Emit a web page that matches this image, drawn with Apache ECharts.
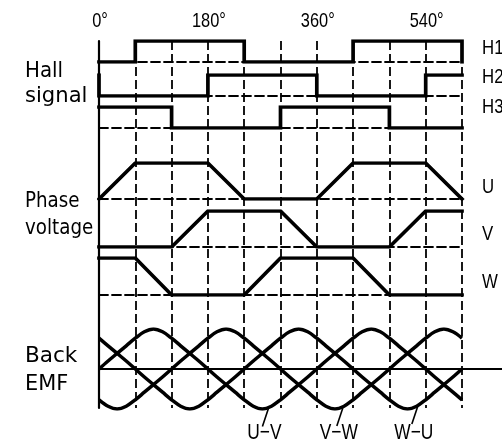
<!DOCTYPE html>
<html><head><meta charset="utf-8">
<script src="https://cdn.jsdelivr.net/npm/echarts@6/dist/echarts.min.js"></script>
<style>html,body{margin:0;padding:0;background:#fff}#c{width:502px;height:444px}</style>
</head><body><div id="c"></div>
<script>
// ---- data ----
const angleLabels = [0, 180, 360, 540];
const hall1 = [[0,0],[60,0],[60,1],[240,1],[240,0],[420,0],[420,1],[600,1],[600,0]];
const hall2 = [[0,1],[0,0],[180,0],[180,1],[360,1],[360,0],[540,0],[540,1],[600,1]];
const hall3 = [[0,1],[120,1],[120,0],[300,0],[300,1],[480,1],[480,0],[600,0]];
const phaseU = [[0,0],[60,1],[180,1],[240,0],[360,0],[420,1],[540,1],[600,0]];
const phaseV = [[0,0],[120,0],[180,1],[300,1],[360,0],[480,0],[540,1],[600,1]];
const phaseW = [[0,1],[60,1],[120,0],[240,0],[300,1],[420,1],[480,0],[600,0]];
const emfAngles = [0,15,30,45,60,75,90,105,120,135,150,165,180,195,210,225,240,255,270,285,300,315,330,345,360,375,390,405,420,435,450,465,480,495,510,525,540,555,570,585,600];
const emfA = [0,.2,.39,.58,.77,.93,1,.93,.77,.58,.39,.2,0,-.2,-.39,-.58,-.77,-.93,-1,-.93,-.77,-.58,-.39,-.2,0,.2,.39,.58,.77,.93,1,.93,.77,.58,.39,.2,0,-.2,-.39,-.58,-.77];
const emfB = [-.77,-.93,-1,-.93,-.77,-.58,-.39,-.2,0,.2,.39,.58,.77,.93,1,.93,.77,.58,.39,.2,0,-.2,-.39,-.58,-.77,-.93,-1,-.93,-.77,-.58,-.39,-.2,0,.2,.39,.58,.77,.93,1,.93,.77];
const emfC = [.77,.58,.39,.2,0,-.2,-.39,-.58,-.77,-.93,-1,-.93,-.77,-.58,-.39,-.2,0,.2,.39,.58,.77,.93,1,.93,.77,.58,.39,.2,0,-.2,-.39,-.58,-.77,-.93,-1,-.93,-.77,-.58,-.39,-.2,0];
const emfNotes = [['U\u2212V', 280, -0.96], ['V\u2212W', 403, -0.95], ['W\u2212U', 527, -0.9]];
const trackNames = ['H1','H2','H3','U','V','W'];
const sideLabels = ['Hall', 'signal', 'Phase', 'voltage', 'Back', 'EMF'];

// ---- styles ----
const INK = '#000';
const ARIAL = "'Liberation Sans',Arial,sans-serif";
const ROUND = "'DejaVu Sans',sans-serif";
const DASH = [9, 4];
const tracks = [[41, 21], [75, 21], [107, 21], [163, 36], [211, 36], [258, 37]];
const chart = echarts.init(document.getElementById('c'), null, {renderer: 'canvas'});

const grids = [], xAxes = [], yAxes = [], series = [];
grids.push({left: 99, width: 363, top: 41, height: 367, outerBoundsMode: 'none', containLabel: false});
xAxes.push({gridIndex: 0, type: 'value', min: 0, max: 600, interval: 60, position: 'top',
  axisLine: {show: false}, axisTick: {show: false}, axisLabel: {show: false},
  splitLine: {show: true, lineStyle: {color: INK, width: 1.8, type: DASH}}});
yAxes.push({gridIndex: 0, type: 'value', min: 0, max: 1,
  axisLine: {show: true, lineStyle: {color: INK, width: 2.2}}, axisTick: {show: false},
  axisLabel: {show: false}, splitLine: {show: false}});

const trackData = [hall1, hall2, hall3, phaseU, phaseV, phaseW];
tracks.forEach((t, i) => {
  const gi = grids.length;
  grids.push({left: 99, width: 363, top: t[0], height: t[1], outerBoundsMode: 'none', containLabel: false});
  xAxes.push({gridIndex: gi, type: 'value', min: 0, max: 600, position: 'bottom',
    axisLine: {show: true, onZero: false, lineStyle: {color: INK, width: 1.8, type: DASH}},
    axisTick: {show: false}, axisLabel: {show: false}, splitLine: {show: false}});
  yAxes.push({gridIndex: gi, type: 'value', min: 0, max: 1, show: false});
  series.push({type: 'line', name: trackNames[i], xAxisIndex: gi, yAxisIndex: gi, data: trackData[i],
    symbol: 'none', silent: true, z: 5,
    lineStyle: {color: INK, width: 3.7, join: 'miter', cap: 'square'}});
});

const eg = grids.length;
grids.push({left: 99, width: 363, top: 329, height: 80, outerBoundsMode: 'none', containLabel: false});
xAxes.push({gridIndex: eg, type: 'value', min: 0, max: 600, show: false});
yAxes.push({gridIndex: eg, type: 'value', min: -1, max: 1, show: false});
[emfA, emfB, emfC].forEach(arr => {
  series.push({type: 'line', xAxisIndex: eg, yAxisIndex: eg, symbol: 'none', silent: true, smooth: 0.35, z: 5,
    data: emfAngles.map((a, k) => [a, arr[k]]),
    lineStyle: {color: INK, width: 3.5}});
});
const zg = grids.length;
grids.push({left: 99, right: 0, top: 329, height: 40, outerBoundsMode: 'none', containLabel: false});
xAxes.push({gridIndex: zg, type: 'value', min: 0, max: 1, position: 'bottom',
  axisLine: {show: true, onZero: false, lineStyle: {color: INK, width: 2.2}},
  axisTick: {show: false}, axisLabel: {show: false}, splitLine: {show: false}});
yAxes.push({gridIndex: zg, type: 'value', min: 0, max: 1, show: false});

chart.setOption({animation: false, backgroundColor: '#fff', grid: grids, xAxis: xAxes, yAxis: yAxes, series: series});

// ---- text ----
function txt(text, x, y, size, family, align, sx) {
  return {type: 'text', silent: true, z: 10, x: x, y: y, scaleX: sx || 1,
    style: {text: text, x: 0, y: 0, fill: INK, fontSize: size, fontFamily: family,
      align: align || 'left', verticalAlign: 'middle'}};
}
const g = [];
const sideY = [71.5, 96, 201.5, 228, 356.5, 384.5];
const sideScale = [0.9, 0.96, 0.83, 0.83, 0.98, 0.95];
sideLabels.forEach((s, i) => g.push(txt(s, 25, sideY[i], 22, ROUND, 'left', sideScale[i])));
angleLabels.forEach(a => {
  const p = chart.convertToPixel({gridIndex: 0}, [a, 1]);
  g.push(txt(a + '\u00b0', p[0] + 1, 21, 21, ARIAL, 'center', 0.78));
});
const rightCenters = [48, 77, 107, 187, 234, 282];
trackNames.forEach((n, i) => g.push(txt(n, 482, rightCenters[i], 21, ARIAL, 'left', 0.8)));
emfNotes.forEach(n => {
  const p = chart.convertToPixel({gridIndex: eg}, [n[1], n[2]]);
  g.push({type: 'line', silent: true, z: 10,
    shape: {x1: p[0], y1: p[1] + 1, x2: p[0] - 6, y2: p[1] + 19},
    style: {stroke: INK, lineWidth: 1.6}});
  g.push(txt(n[0], p[0] - 4, 433, 22, ARIAL, 'center', 0.79));
});
chart.setOption({graphic: g});
</script>
</body></html>
